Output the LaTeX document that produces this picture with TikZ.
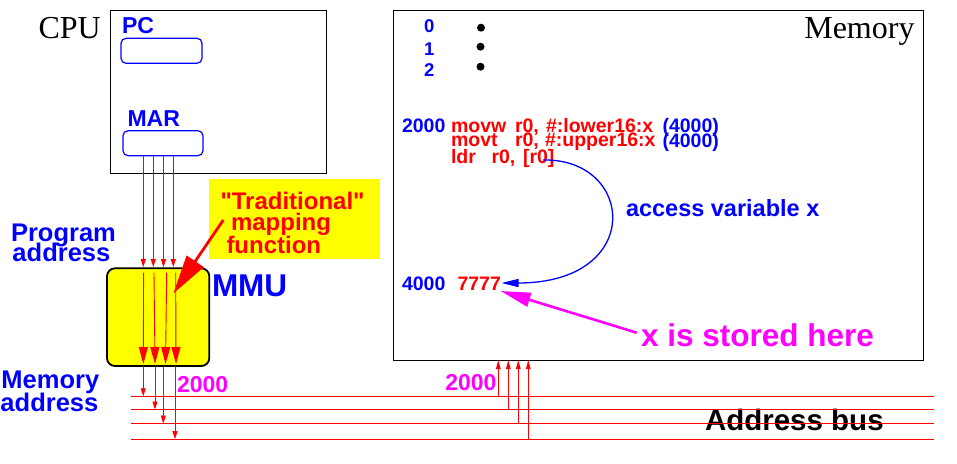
\documentclass[tikz,border=0pt]{standalone}
\usepackage{fontspec}
\setmainfont{Liberation Serif}
\setsansfont{Liberation Sans}
\newfontfamily\plainsans{Liberation Sans}
\usetikzlibrary{arrows.meta}
\definecolor{myred}{RGB}{255,0,0}
\definecolor{myblue}{RGB}{0,0,255}
\definecolor{mymag}{RGB}{255,0,255}
\definecolor{myyel}{RGB}{255,255,0}
\begin{document}
\begin{tikzpicture}[x=1pt,y=-1pt,
  lbl/.style={inner sep=0pt, outer sep=0pt, anchor=base west},
  lble/.style={inner sep=0pt, outer sep=0pt, anchor=base east},
  sf/.style={font=\sffamily\bfseries\fontsize{#1}{#1}\selectfont},
  psf/.style={font=\plainsans\bfseries\fontsize{#1}{#1}\selectfont},
  rmf/.style={font=\rmfamily\fontsize{#1}{#1}\selectfont},
  frame/.style={draw=black, line width=1pt, inner sep=0pt, outer sep=0pt, anchor=north west},
  reg/.style={draw=myblue, line width=1.2pt, rounded corners=5pt, inner sep=0pt, outer sep=0pt, anchor=north west},
  wire/.style={draw=myred, line width=0.9pt},
  sarrow/.style={wire, -{Triangle[length=8pt,width=5pt]}},
  tarrow/.style={wire, -{Triangle[length=9pt,width=4.5pt]}},
  barrow/.style={wire, -{Triangle[length=17pt,width=9pt]}},
]
\useasboundingbox (0,0) rectangle (957,463);
\fill[white] (0,0) rectangle (957,463);

% yellow label box
\node[fill=myyel, inner sep=0pt, outer sep=0pt, anchor=north west, minimum width=171pt, minimum height=79.3pt] (trad) at (209,179.3) {};

% boxes
\node[frame, minimum width=216pt, minimum height=162.6pt] (cpu) at (110.7,10.7) {};
\node[frame, minimum width=530pt, minimum height=349.3pt] (mem) at (393.3,10.7) {};
\node[reg, minimum width=81pt, minimum height=25pt] (pc) at (121,38.3) {};
\node[reg, minimum width=80pt, minimum height=25pt] (mar) at (123,130.7) {};
\node[draw=black, fill=myyel, line width=1.8pt, rounded corners=8pt, inner sep=0pt, outer sep=0pt, anchor=north west, minimum width=102.3pt, minimum height=97.7pt] (mmu) at (107,268.3) {};

% labels
\node[lbl, rmf=32] (cpul) at (38.5,38.3) {CPU};
\node[lble, rmf=32] (meml) at (914.5,38.5) {Memory};
\node[lbl, sf=23, text=myblue] (pcl) at (122,33) {PC};
\node[lbl, sf=23, text=myblue] (marl) at (127.5,126.7) {MAR};
\node[lbl, sf=25.5, text=myblue] (pa1) at (11,241.7) {Program};
\node[lbl, sf=25.5, text=myblue] (pa2) at (12.5,261.7) {address};
\node[lbl, sf=25.5, text=myblue] (ma1) at (1.5,388.3) {Memory};
\node[lbl, sf=25.5, text=myblue] (ma2) at (0.5,411) {address};
\node[lbl, sf=31.5, text=myblue] (mmul) at (212,296) {MMU};
\node[lbl, sf=23, text=mymag] (adl) at (177,392.7) {2000};
\node[lble, sf=23, text=mymag] (adr) at (496.5,390.7) {2000};
\node[lbl, sf=29.5, text=black] (busl) at (705,430.7) {Address bus};
\node[lbl, psf=24, text=myred] (t1) at (220.5,209.3) {"Traditional"};
\node[lbl, sf=24, text=myred] (t2) at (231,230) {mapping};
\node[lbl, sf=24, text=myred] (t3) at (226.5,253.3) {function};

% memory contents
\node[lbl, sf=18.5, text=myblue] (m0) at (424,32.7) {0};
\node[lbl, sf=18.5, text=myblue] (m1) at (424,55) {1};
\node[lbl, sf=18.5, text=myblue] (m2) at (424,76.7) {2};
\fill (481,27.7) circle (4pt);
\fill (480.5,46.7) circle (4pt);
\fill (480.5,66.7) circle (4pt);

\node[lbl, sf=19.5, text=myblue] (a2000) at (402,132.3) {2000};
\node[lbl, sf=19.5, text=myred] (i1a) at (451,132.3) {movw};
\node[lbl, sf=19.5, text=myred] (i1b) at (515,132.3) {r0,};
\node[lbl, sf=19.5, text=myred] (i1c) at (546,132.3) {\#:lower16:x};
\node[lbl, sf=19.5, text=myblue] (i1d) at (662.5,132.3) {(4000)};
\node[lbl, sf=19.5, text=myred] (i2a) at (451,146.7) {movt};
\node[lbl, sf=19.5, text=myred] (i2b) at (515,146.7) {r0,};
\node[lbl, sf=19.5, text=myred] (i2c) at (545,146.7) {\#:upper16:x};
\node[lbl, sf=19.5, text=myblue] (i2d) at (662.5,147.5) {(4000)};
\node[lbl, sf=19.5, text=myred] (i3a) at (451,163.5) {ldr};
\node[lbl, sf=19.5, text=myred] (i3b) at (491.5,163.5) {r0,};
\node[lbl, sf=19.5, text=myred] (i3c) at (523,163.5) {[r0]};
\node[lbl, sf=19.5, text=myblue] (a4000) at (402,290.7) {4000};
\node[lbl, sf=19.5, text=myred] (v7777) at (457.5,290.7) {7777};
\node[lbl, sf=23.5, text=myblue] (acc) at (626,216) {access variable x};
\node[lbl, sf=31.5, text=mymag] (stored) at (641,346) {x is stored here};

% coordinates
\coordinate (c1) at (143.3,0);
\coordinate (c2) at (153.3,0);
\coordinate (c3) at (163.5,0);
\coordinate (c4) at (173.3,0);
\coordinate (d1) at (143.3,0);
\coordinate (d2) at (155,0);
\coordinate (d3) at (163.3,0);
\coordinate (d4) at (175,0);
\coordinate (u1) at (498.3,0);
\coordinate (u2) at (508.3,0);
\coordinate (u3) at (518.3,0);
\coordinate (u4) at (528.3,0);
\coordinate (b1w) at (131.3,396.3);
\coordinate (b1e) at (934,396.3);
\coordinate (b2w) at (131.3,409.5);
\coordinate (b2e) at (934,409.5);
\coordinate (b3w) at (131.3,423.5);
\coordinate (b3e) at (934,423.5);
\coordinate (b4w) at (131.3,439.2);
\coordinate (b4e) at (934,439.2);
\coordinate (k1s) at (143.6,272.7);
\coordinate (k1e) at (143.3,364);
\coordinate (k2s) at (154,272.7);
\coordinate (k2e) at (155,364);
\coordinate (k3s) at (166.7,272.7);
\coordinate (k3e) at (165.5,364);
\coordinate (k4s) at (175.7,272.7);
\coordinate (k4e) at (176,364);
\coordinate (cs) at (543,160);
\coordinate (ce) at (501.5,283);
\coordinate (ps) at (636.7,332.7);
\coordinate (pe) at (500.7,291);
\coordinate (rs) at (223.3,220);
\coordinate (re) at (173.3,293.5);

% bus
\draw[wire] (b1w) -- (b1e);
\draw[wire] (b2w) -- (b2e);
\draw[wire] (b3w) -- (b3e);
\draw[wire] (b4w) -- (b4e);

% MAR -> MMU
\draw[sarrow, shorten >=1.2pt] (mar.south -| c1) -- (mmu.north -| c1);
\draw[sarrow, shorten >=1.2pt] (mar.south -| c2) -- (mmu.north -| c2);
\draw[sarrow, shorten >=1.2pt] (mar.south -| c3) -- (mmu.north -| c3);
\draw[sarrow, shorten >=1.2pt] (mar.south -| c4) -- (mmu.north -| c4);

% inside MMU
\draw[barrow] (k1s) -- (k1e);
\draw[barrow] (k2s) -- (k2e);
\draw[barrow] (k3s) -- (k3e);
\draw[barrow] (k4s) -- (k4e);

% MMU -> bus
\draw[sarrow] (mmu.south -| d1) -- (b1w -| d1);
\draw[sarrow] (mmu.south -| d2) -- (b2w -| d2);
\draw[sarrow] (mmu.south -| d3) -- (b3w -| d3);
\draw[sarrow] (mmu.south -| d4) -- (b4w -| d4);

% bus -> memory
\draw[tarrow] (b1w -| u1) -- (mem.south -| u1);
\draw[tarrow] (b2w -| u2) -- (mem.south -| u2);
\draw[tarrow] (b3w -| u3) -- (mem.south -| u3);
\draw[tarrow] (b4w -| u4) -- (mem.south -| u4);

% access curve
\draw[myblue, line width=1.3pt, -{Triangle[length=17pt,width=8pt]}] (cs) .. controls (635,158) and (645,283) .. (ce);

% x is stored here arrow
\draw[mymag, line width=2.6pt, -{Triangle[length=30pt,width=14pt]}] (ps) -- (pe);

% traditional mapping arrow
\draw[myred, line width=2.8pt, -{Triangle[length=39pt,width=20pt]}] (rs) -- (re);
\end{tikzpicture}
\end{document}
